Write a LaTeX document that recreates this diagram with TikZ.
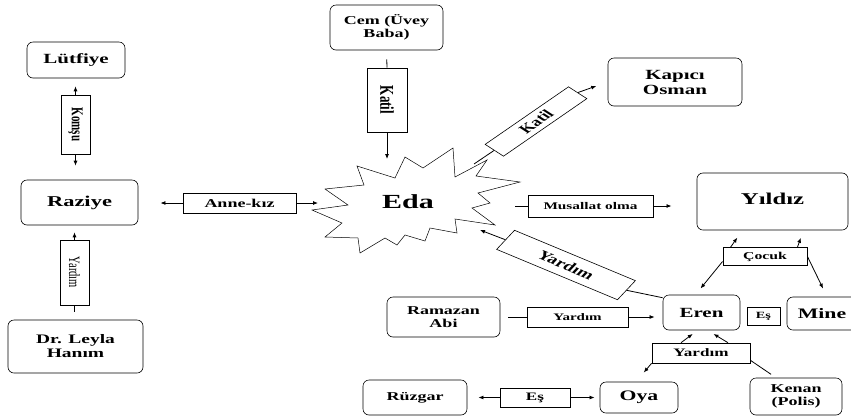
\documentclass[tikz,border=0pt]{standalone}
\usepackage{fontspec}
\setmainfont{Liberation Serif}
\usepackage{graphicx}
\usetikzlibrary{arrows.meta, positioning, calc}

\tikzset{
  stretch/.style={xscale=1.5},
  person/.style={stretch, draw, line width=0.6pt, rounded corners=6pt, align=center,
    inner sep=1pt, font=\bfseries\fontsize{13}{14}\selectfont},
  relbox/.style={stretch, draw, line width=0.6pt, fill=white, inner sep=1pt,
    font=\bfseries\fontsize{10.5}{12}\selectfont},
  link/.style={-{Latex[length=5pt,width=4pt]}, line width=0.8pt},
  plain/.style={line width=0.8pt}
}

\begin{document}
\begin{tikzpicture}[x=1pt, y=-1pt]

  \useasboundingbox (0,0) rectangle (851,416);
  \clip (0,0) rectangle (851,416);

  % Left column
  \node[person, minimum width=65.3, minimum height=36, font=\bfseries\fontsize{14}{15}\selectfont] (lutfiye) at (76,60) {Lütfiye};
  \node[relbox, minimum width=19.3, minimum height=59, font=\bfseries\fontsize{11}{12}\selectfont] (komsu) at (75.5,124.5) {\rotatebox{-90}{Komşu}};
  \node[person, minimum width=78, minimum height=45, font=\bfseries\fontsize{15}{16}\selectfont] (raziye) at (79.5,202.5) {Raziye};
  \node[relbox, minimum width=19.3, minimum height=65, font=\fontsize{10.5}{12}\selectfont] (yardimA) at (74.5,272.5) {\rotatebox{-90}{Yardım}};
  \node[person, minimum width=90, minimum height=53] (leyla) at (75.5,346.5) {Dr. Leyla\\Hanım};

  \draw[link, shorten >=8pt] (komsu.north) -- (komsu.north |- lutfiye.south);
  \draw[link, shorten >=14pt] (komsu.south) -- (komsu.south |- raziye.north);
  \draw[link, shorten >=7pt] (yardimA.north) -- (yardimA.north |- raziye.south);
  \draw[plain, shorten <=8pt] (yardimA.south |- leyla.north) -- (yardimA.south);

  % Eda in the middle
  \draw[line width=0.5pt, fill=white]
    (312,210) -- (342,223) -- (325,237) -- (358,238) -- (360,253) -- (385,238)
    -- (397,245) -- (405,235) -- (425,241) -- (430,228) -- (457,233) -- (455,219)
    -- (495,225) -- (472,208) -- (490,203) -- (478,193) -- (520,182) -- (476,176)
    -- (487,160) -- (455,177) -- (453,148) -- (423,168) -- (405,157) -- (395,178)
    -- (357,166) -- (364,185) -- (325,189) -- (348,205) -- cycle;
  \node[stretch, font=\bfseries\fontsize{20}{22}\selectfont] (eda) at (408,202) {Eda};
  \coordinate (edaN) at (387,159);
  \coordinate (edaW) at (318,203);
  \coordinate (edaNE) at (474,164);
  \coordinate (edaE) at (515,206);
  \coordinate (edaSE) at (480,230);

  \node[relbox, minimum width=75.3, minimum height=20, font=\bfseries\fontsize{12}{13}\selectfont] (annekiz) at (239.5,203) {Anne-kız};
  \draw[link, shorten >=22pt] (annekiz.west) -- (annekiz.west -| raziye.east);
  \draw[link] (annekiz.east) -- (edaW);

  % Top: Cem and Kapici Osman
  \node[person, minimum width=75.3, minimum height=45, font=\bfseries\fontsize{12}{13}\selectfont] (cem) at (386.5,27.5) {Cem (Üvey\\Baba)};
  \node[relbox, minimum width=26.7, minimum height=64, font=\bfseries\fontsize{13}{14}\selectfont] (katilA) at (387,100) {\rotatebox{-90}{Katil}};
  \draw[plain, shorten <=9pt] (cem.south) -- (katilA.north);
  \draw[link] (katilA.south) -- (edaN);

  \node[person, minimum width=89.3, minimum height=48, font=\bfseries\fontsize{14}{15}\selectfont] (kapici) at (675,82) {Kapıcı\\Osman};
  \node[relbox, rotate=46, minimum width=80, minimum height=17, font=\bfseries\fontsize{12.5}{14}\selectfont] (katilB) at (536,121.5) {Katil};
  \draw[plain] (edaNE) -- (katilB.west);
  \draw[link, shorten >=12pt] (katilB.east) -- (kapici.west);

  % Right: Yildiz and the children
  \node[relbox, minimum width=83.3, minimum height=22, font=\bfseries\fontsize{10.2}{12}\selectfont] (musallat) at (590.5,206) {Musallat olma};
  \node[person, minimum width=100.7, minimum height=57, font=\bfseries\fontsize{16.5}{18}\selectfont] (yildiz) at (772.5,201.5) {\raisebox{6pt}{Yıldız}};
  \draw[plain] (edaE) -- (musallat.west);
  \draw[link, shorten >=25pt] (musallat.east) -- (musallat.east -| yildiz.west);

  \node[person, minimum width=51.3, minimum height=35, font=\bfseries\fontsize{14}{15}\selectfont] (eren) at (701.5,312.5) {Eren};
  \node[relbox, minimum width=22, minimum height=18, font=\bfseries\fontsize{9.5}{11}\selectfont] (esA) at (763.5,316) {Eş};
  \node[person, minimum width=46.7, minimum height=33, font=\bfseries\fontsize{14.5}{16}\selectfont] (mine) at (822,313.5) {Mine};

  \node[relbox, rotate=-32, minimum width=95, minimum height=22.5, font=\bfseries\fontsize{13}{15}\selectfont] (yardimB) at (566,265) {Yardım};
  \draw[link] (yardimB.west) -- (edaSE);
  \draw[plain] (yardimB.east) -- ([yshift=-3pt]eren.north west);

  \node[relbox, minimum width=56, minimum height=18] (cocuk) at (765,256.5) {Çocuk};
  \draw[link, shorten >=9pt] ([xshift=8pt]cocuk.north west) -- ([xshift=-30pt]yildiz.south);
  \draw[link, shorten >=8pt] ([xshift=-10pt]cocuk.north east) -- ([xshift=31pt]yildiz.south);
  \draw[link, shorten >=8pt] ([yshift=-5pt]cocuk.west) -- ([xshift=-6pt]eren.north);
  \draw[link, shorten >=9pt] (cocuk.east) -- ([xshift=5pt]mine.north);

  % Bottom row
  \node[person, minimum width=75.3, minimum height=40, font=\bfseries\fontsize{12}{13}\selectfont] (ramazan) at (443.5,317) {Ramazan\\Abi};
  \node[relbox, minimum width=67.3, minimum height=20, font=\bfseries\fontsize{10}{11}\selectfont] (yardimC) at (577.5,317) {Yardım};
  \draw[plain, shorten <=8pt] (ramazan.east) -- (yardimC.west);
  \draw[link, shorten >=8pt] (yardimC.east) -- (yardimC.east -| eren.west);

  \node[relbox, minimum width=65.3, minimum height=20, font=\bfseries\fontsize{11.4}{13}\selectfont] (yardimD) at (701,353) {Yardım};
  \node[person, minimum width=52, minimum height=31, font=\bfseries\fontsize{14.5}{16}\selectfont] (oya) at (639,397.5) {Oya};
  \node[person, minimum width=61.3, minimum height=37, font=\bfseries\fontsize{12}{13}\selectfont] (kenan) at (796,396.5) {Kenan\\(Polis)};
  \draw[link, shorten >=6pt] ([xshift=-20pt]yardimD.north) -- ([xshift=-4pt]eren.south);
  \draw[link, shorten >=7pt] ([xshift=27pt]yardimD.north) -- ([xshift=6pt]eren.south);
  \draw[link, shorten >=12pt] (yardimD.south west) -- ([xshift=-3pt]oya.north);
  \draw[plain, shorten >=6pt] ([yshift=3pt]yardimD.south east) -- ([xshift=-20pt]kenan.north);

  \node[person, minimum width=69.3, minimum height=35, font=\bfseries\fontsize{12}{13}\selectfont] (ruzgar) at (415,397.5) {Rüzgar};
  \node[relbox, minimum width=46.7, minimum height=19, font=\bfseries\fontsize{11.4}{13}\selectfont] (esB) at (535,397.5) {Eş};
  \draw[link, shorten >=11pt] (esB.west) -- (ruzgar.east);
  \draw[link, shorten >=5pt] (esB.east) -- (oya.west);

\end{tikzpicture}
\end{document}
